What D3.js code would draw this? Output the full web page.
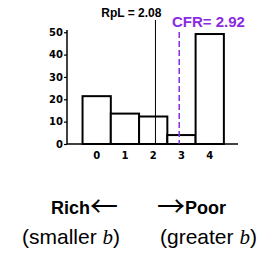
<!DOCTYPE html>
<html>
<head>
<meta charset="utf-8">
<script src="https://cdn.jsdelivr.net/npm/d3@7"></script>
<style>
  body { margin: 0; background: #fff; }
  svg { display: block; }
</style>
</head>
<body>
<div id="graph"></div>
<script>
// data
const categories = [0, 1, 2, 3, 4];
const values = [21.4, 13.6, 12.3, 4.0, 49.2];
const yTicks = [0, 10, 20, 30, 40, 50];
const rpl = 2.08;
const cfr = 2.92;

const width = 271;
const height = 257;
const purple = "#8a2be2";
const tickFont = "'DejaVu Sans', Verdana, sans-serif";
const labelFont = "'Liberation Sans', Arial, Helvetica, sans-serif";
const arrowFont = "'Noto Sans CJK SC', 'DejaVu Sans', sans-serif";

let svg = d3.select('#graph')
  .append('svg')
  .attr('width', width)
  .attr('height', height);

let xScale = d3.scaleLinear()
  .domain([-1.05, 5])
  .range([67, 238]);

let yScale = d3.scaleLinear()
  .domain([0, 51])
  .range([144, 30]);

let chart = svg.append('g').attr('class', 'chart');

// bars
chart.selectAll('.bar').data(categories)
  .enter()
  .append('rect')
  .attr('class', 'bar')
  .attr('x', d => xScale(d - 0.5))
  .attr('y', (d, i) => yScale(values[i]))
  .attr('width', xScale(0.5) - xScale(-0.5))
  .attr('height', (d, i) => yScale(0) - yScale(values[i]))
  .attr('fill', '#fff')
  .attr('stroke', '#000')
  .attr('stroke-width', 2);

// y axis
let yAxis = d3.axisLeft(yScale)
  .tickValues(yTicks)
  .tickSize(3)
  .tickPadding(1);
let yG = chart.append('g')
  .attr('transform', `translate(${xScale.range()[0]}, 0)`)
  .call(yAxis);
yG.select('.domain').attr('stroke-width', 1.5).attr('d', `M0,${yScale(51)}V${yScale(0)}`);
yG.selectAll('.tick line').attr('stroke-width', 1.2);
yG.selectAll('text')
  .style('font-family', tickFont)
  .style('font-weight', 'bold')
  .style('font-size', '10px')
  .attr('fill', '#000');

// x axis line
chart.append('line')
  .attr('x1', xScale.range()[0])
  .attr('x2', xScale.range()[1])
  .attr('y1', yScale(0))
  .attr('y2', yScale(0))
  .attr('stroke', '#000')
  .attr('stroke-width', 1.5);

// x tick labels
chart.selectAll('.xlabel').data(categories)
  .enter()
  .append('text')
  .attr('class', 'xlabel')
  .attr('x', d => xScale(d))
  .attr('y', 159)
  .attr('text-anchor', 'middle')
  .style('font-family', tickFont)
  .style('font-weight', 'bold')
  .style('font-size', '10px')
  .text(d => d);

// RpL line
chart.append('line')
  .attr('x1', xScale(rpl))
  .attr('x2', xScale(rpl))
  .attr('y1', 20)
  .attr('y2', yScale(0))
  .attr('stroke', '#000')
  .attr('stroke-width', 1);
chart.append('text')
  .attr('x', xScale(rpl) + 6)
  .attr('y', 17)
  .attr('text-anchor', 'end')
  .style('font-family', labelFont)
  .style('font-weight', 'bold')
  .style('font-size', '12px')
  .text('RpL = ' + rpl.toFixed(2));

// CFR line
chart.append('line')
  .attr('x1', xScale(cfr))
  .attr('x2', xScale(cfr))
  .attr('y1', 32)
  .attr('y2', yScale(0))
  .attr('stroke', purple)
  .attr('stroke-width', 1.5)
  .attr('stroke-dasharray', '6,3');
chart.append('text')
  .attr('x', 172)
  .attr('y', 27)
  .attr('fill', purple)
  .style('font-family', labelFont)
  .style('font-weight', 'bold')
  .style('font-size', '15px')
  .text('CFR= ' + cfr.toFixed(2));

// bottom labels
let notes = svg.append('g').attr('class', 'notes')
  .style('font-family', labelFont);
let r = notes.append('text')
  .attr('x', 51).attr('y', 214)
  .style('font-weight', 'bold').style('font-size', '18px');
r.append('tspan').text('Rich');
r.append('tspan').style('font-family', arrowFont).style('font-weight', 'normal')
  .style('font-size', '28px').attr('dy', 3).text('\u2190');
let p = notes.append('text')
  .attr('x', 157).attr('y', 214)
  .style('font-weight', 'bold').style('font-size', '18px');
p.append('tspan').style('font-family', arrowFont).style('font-weight', 'normal')
  .style('font-size', '28px').attr('dy', 3).text('\u2192');
p.append('tspan').attr('dy', -3).text('Poor');
let t1 = notes.append('text')
  .attr('x', 22).attr('y', 244)
  .style('font-size', '21px');
t1.append('tspan').text('(smaller ');
t1.append('tspan').style('font-family', "'Liberation Serif', 'DejaVu Serif', serif").style('font-style', 'italic').text('b');
t1.append('tspan').text(')');
let t2 = notes.append('text')
  .attr('x', 160).attr('y', 244)
  .style('font-size', '21px');
t2.append('tspan').text('(greater ');
t2.append('tspan').style('font-family', "'Liberation Serif', 'DejaVu Serif', serif").style('font-style', 'italic').text('b');
t2.append('tspan').text(')');
</script>
</body>
</html>
